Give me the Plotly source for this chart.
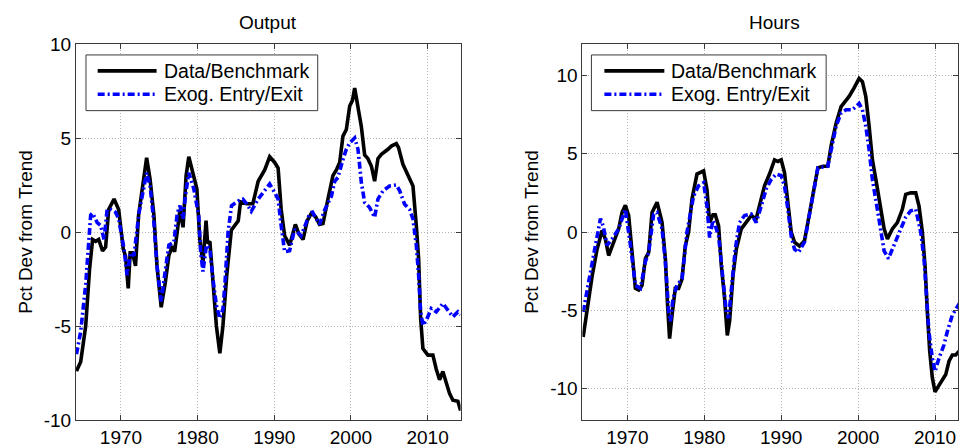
import plotly.graph_objects as go

# ---------------- data ----------------
output_data_years = [1964.2, 1964.75, 1965.4, 1965.9, 1966.3, 1966.7, 1967.1, 1967.6, 1968.0, 1968.4,
                     1969.1, 1969.7, 1970.3, 1970.6, 1970.95, 1971.2, 1971.5, 1971.9, 1972.3, 1972.9,
                     1973.35, 1973.8, 1974.3, 1974.7, 1975.25, 1975.8, 1976.25, 1976.7, 1977.0, 1977.4,
                     1977.7, 1978.1, 1978.5, 1978.85, 1979.5, 1979.9, 1980.3, 1980.7, 1981.1, 1981.3,
                     1981.6, 1982.0, 1982.45, 1982.9, 1983.3, 1983.8, 1984.4, 1985.3, 1985.6, 1986.4,
                     1987.2, 1987.9, 1988.75, 1989.4, 1990.05, 1990.5, 1990.9, 1991.35, 1992.0, 1992.75,
                     1993.2, 1993.75, 1994.3, 1994.85, 1995.4, 1995.9, 1996.35, 1997.0, 1997.65, 1998.1,
                     1998.53, 1998.96, 1999.4, 1999.84, 2000.2, 2000.49, 2000.92, 2001.36, 2001.79, 2002.22,
                     2002.67, 2003.09, 2003.52, 2003.97, 2004.83, 2005.27, 2005.92, 2006.2, 2006.78, 2007.43,
                     2008.09, 2008.53, 2008.83, 2009.09, 2009.39, 2010.04, 2010.69, 2011.13, 2011.56, 2011.99,
                     2012.44, 2012.87, 2013.3, 2013.95, 2014.3]
output_data = [-7.4, -6.9, -5.0, -2.0, -0.4, -0.5, -0.4, -1.0, -0.8, 1.2,
               1.75, 1.2, -0.9, -1.3, -3.0, -1.1, -1.1, -1.8, 0.9, 2.6,
               3.95, 2.8, 0.9, -1.8, -4.0, -2.65, -1.25, -0.75, -1.05, 0.2,
               1.2, 0.25, 3.0, 4.0, 3.0, 2.3, -0.5, -1.6, 0.6, -0.6,
               -0.5, -2.8, -5.0, -6.45, -5.0, -2.3, 0.1, 0.6, 1.6, 1.5,
               1.5, 2.7, 3.3, 4.0, 3.7, 3.4, 1.2, -0.2, -0.7, 0.4,
               -0.1, -0.4, 0.6, 1.0, 0.8, 0.4, 0.45, 1.75, 3.0, 3.3,
               3.7, 5.1, 5.45, 6.7, 7.0, 7.65, 6.7, 5.6, 4.1, 3.9,
               3.5, 2.7, 3.9, 4.13, 4.4, 4.57, 4.7, 4.5, 3.6, 2.98,
               2.45, 0.33, -1.43, -4.6, -6.2, -6.55, -6.55, -7.3, -7.86, -7.42,
               -7.95, -8.6, -8.95, -9.0, -9.5]

output_exog_years = [1964.2, 1964.75, 1965.4, 1966.05, 1966.3, 1966.9, 1967.35, 1967.8, 1968.2, 1968.65,
                     1969.3, 1969.7, 1970.4, 1970.8, 1971.25, 1971.7, 1972.35, 1973.0, 1973.35, 1973.8,
                     1974.3, 1974.7, 1975.25, 1975.8, 1976.25, 1976.9, 1977.35, 1977.7, 1978.1, 1978.4,
                     1978.85, 1979.5, 1980.15, 1980.4, 1980.7, 1981.15, 1981.6, 1982.0, 1982.45, 1982.9,
                     1983.3, 1983.55, 1983.98, 1984.42, 1985.3, 1985.9, 1986.4, 1987.0, 1987.9, 1988.55,
                     1989.4, 1990.05, 1990.5, 1990.9, 1991.35, 1992.0, 1992.65, 1993.5, 1994.6, 1995.0,
                     1995.9, 1996.6, 1997.45, 1997.88, 1998.3, 1998.96, 1999.4, 1999.84, 2000.49, 2000.92,
                     2001.36, 2001.79, 2002.44, 2003.09, 2003.52, 2004.18, 2005.05, 2005.92, 2006.35, 2007.0,
                     2007.65, 2008.09, 2008.53, 2008.83, 2009.09, 2009.39, 2009.83, 2010.48, 2011.13, 2011.99,
                     2012.64, 2013.3, 2013.95, 2014.3]
output_exog = [-6.5, -5.3, -2.8, 0.9, 1.0, 0.5, 0.35, -0.4, 1.2, 1.2,
               1.05, 0.7, -0.9, -2.3, -1.1, -1.25, 1.0, 2.45, 3.15, 2.45,
               0.5, -1.8, -3.7, -2.0, -0.7, -0.55, 1.0, 1.4, 0.7, 1.9,
               3.15, 2.3, 0.85, -1.1, -2.1, -0.7, -0.9, -2.5, -3.9, -4.6,
               -4.1, -2.84, 0.0, 1.4, 1.65, 1.75, 1.5, 1.1, 1.75, 2.1,
               2.55, 2.1, 1.75, 0.35, -1.05, -1.0, 0.15, -0.2, 0.95, 1.05,
               0.4, 1.2, 1.9, 2.7, 2.9, 3.86, 4.4, 4.74, 5.0, 4.4,
               2.63, 1.57, 1.3, 0.78, 1.75, 2.19, 2.45, 2.5, 2.2, 1.48,
               1.2, 0.7, -0.72, -2.3, -4.25, -4.96, -4.7, -4.07, -4.25, -3.8,
               -4.16, -4.51, -4.25, -4.4]

hours_data_years = [1964.25, 1964.77, 1965.42, 1966.06, 1966.71, 1967.14, 1967.57, 1968.22, 1968.87, 1969.31,
                    1969.74, 1970.17, 1970.61, 1971.04, 1971.47, 1971.91, 1972.34, 1972.77, 1973.21, 1973.86,
                    1974.51, 1974.94, 1975.23, 1975.49, 1975.81, 1976.23, 1976.66, 1977.1, 1977.53, 1977.96,
                    1978.4, 1979.05, 1979.91, 1980.35, 1980.69, 1981.13, 1981.43, 1981.86, 1982.21, 1982.64,
                    1982.99, 1983.29, 1983.73, 1984.16, 1984.81, 1985.45, 1986.1, 1986.75, 1987.4, 1987.83,
                    1988.48, 1989.13, 1989.57, 1990.0, 1990.43, 1990.87, 1991.3, 1991.73, 1992.38, 1993.03,
                    1993.68, 1994.32, 1994.77, 1995.42, 1996.06, 1996.49, 1997.14, 1997.79, 1998.18, 1998.83,
                    1999.48, 2000.13, 2000.56, 2001.0, 2001.43, 2001.86, 2002.38, 2002.95, 2003.38, 2003.81,
                    2004.45, 2005.1, 2005.75, 2006.19, 2006.84, 2007.49, 2007.92, 2008.35, 2008.7, 2009.0,
                    2009.31, 2009.65, 2010.0, 2010.43, 2010.95, 2011.39, 2011.82, 2012.25, 2012.69, 2012.99,
                    2013.5, 2014.2]
hours_data = [-6.7, -4.9, -2.8, -1.1, 0.1, -0.45, -1.5, -0.65, 0.2, 1.25,
              1.7, 1.05, -1.1, -3.6, -3.7, -3.4, -1.7, -1.3, 1.25, 1.9,
              0.6, -1.7, -4.7, -6.8, -5.3, -3.6, -3.6, -3.0, -0.9, 0.0,
              2.1, 3.7, 3.9, 2.7, 0.6, 1.1, 1.1, 0.4, -2.1, -4.25,
              -6.6, -5.7, -2.8, -1.1, 0.2, 0.6, 1.05, 0.85, 2.1, 2.95,
              3.7, 4.6, 4.5, 4.6, 3.8, 1.9, 0.0, -0.65, -0.9, -0.55,
              1.25, 2.95, 4.1, 4.2, 4.2, 5.5, 6.95, 8.0, 8.25, 8.65,
              9.2, 9.8, 9.6, 8.65, 6.75, 4.6, 3.15, 1.45, 0.2, -0.45,
              0.2, 0.6, 1.45, 2.4, 2.5, 2.5, 1.65, 0.0, -2.15, -5.1,
              -7.6, -9.3, -10.2, -9.85, -9.45, -9.1, -8.25, -7.85, -7.85, -7.65,
              -7.4, -7.0]

hours_exog_years = [1964.25, 1964.77, 1965.6, 1966.5, 1966.85, 1967.36, 1968.0, 1968.87, 1969.74, 1970.4,
                    1971.04, 1971.7, 1972.34, 1972.77, 1973.42, 1973.86, 1974.51, 1974.94, 1975.37, 1975.6,
                    1975.93, 1976.45, 1977.1, 1977.75, 1978.18, 1978.61, 1979.26, 1979.91, 1980.35, 1980.69,
                    1981.13, 1981.43, 1981.86, 1982.43, 1982.86, 1983.16, 1983.6, 1984.03, 1984.58, 1985.23,
                    1986.1, 1986.75, 1987.4, 1988.05, 1988.7, 1989.35, 1990.0, 1990.43, 1990.87, 1991.3,
                    1991.73, 1992.25, 1993.03, 1993.68, 1994.32, 1994.77, 1996.06, 1996.49, 1997.14, 1997.79,
                    1998.44, 1999.26, 2000.13, 2000.56, 2001.0, 2001.43, 2001.86, 2002.5, 2002.95, 2003.38,
                    2003.94, 2004.45, 2005.3, 2006.19, 2006.84, 2007.49, 2008.14, 2008.57, 2008.87, 2009.2,
                    2009.65, 2010.0, 2010.52, 2011.17, 2011.6, 2012.25, 2012.99, 2013.5, 2014.2]
hours_exog = [-5.1, -3.6, -1.5, 0.85, 0.4, -0.85, -0.45, 0.2, 1.45, -0.85,
              -3.4, -3.6, -1.9, -1.3, 1.15, 1.25, 0.2, -1.9, -5.1, -5.7,
              -4.25, -3.4, -3.0, 0.0, 1.05, 2.3, 2.95, 3.15, 1.65, -0.35,
              0.75, 0.4, -0.25, -3.0, -5.1, -5.5, -3.2, -1.1, 0.6, 1.05,
              1.15, 0.6, 1.65, 2.75, 3.35, 3.7, 3.6, 2.95, 1.45, -0.25,
              -1.1, -1.3, -0.65, 1.25, 2.95, 4.1, 4.2, 5.25, 6.75, 7.6,
              7.8, 7.8, 8.2, 7.8, 6.75, 5.25, 3.35, 1.45, 0.0, -1.2,
              -1.7, -1.1, 0.0, 0.95, 1.35, 1.45, 0.0, -1.7, -3.85, -6.35,
              -8.05, -8.9, -8.05, -7.2, -6.35, -5.3, -4.7, -4.3, -4.0]

x_tickvals = [1970, 1980, 1990, 2000, 2010]
x_ticktext = ["1970", "1980", "1990", "2000", "2010"]
y_tickvals = [-10, -5, 0, 5, 10]
y_ticktext = ["-10", "-5", "0", "5", "10"]
panel_titles = ["Output", "Hours"]
series_names = ["Data/Benchmark", "Exog. Entry/Exit"]
y_title = "Pct Dev from Trend"

# ---------------- styling ----------------
FONT = "Liberation Sans, Arial, Helvetica, sans-serif"
FS = 19
BLACK = "#000000"
BLUE = "#0000ff"
LW = 3.6
DASH = "7px,3px,2px,3px"
AXC = "#3a3a3a"
GRIDC = "#b4b4b4"

fig = go.Figure()
fig.add_trace(go.Scatter(x=output_data_years, y=output_data, mode="lines", name=series_names[0],
                         line=dict(color=BLACK, width=LW), xaxis="x", yaxis="y", showlegend=False))
fig.add_trace(go.Scatter(x=output_exog_years, y=output_exog, mode="lines", name=series_names[1],
                         line=dict(color=BLUE, width=LW, dash=DASH), xaxis="x", yaxis="y", showlegend=False))
fig.add_trace(go.Scatter(x=hours_data_years, y=hours_data, mode="lines", name=series_names[0],
                         line=dict(color=BLACK, width=LW), xaxis="x2", yaxis="y2", showlegend=False))
fig.add_trace(go.Scatter(x=hours_exog_years, y=hours_exog, mode="lines", name=series_names[1],
                         line=dict(color=BLUE, width=LW, dash=DASH), xaxis="x2", yaxis="y2", showlegend=False))

W, H = 959, 448
ML, MR, MT, MB = 76, 0, 44, 26
PW = W - ML - MR

def xdom(px0, px1):
    return [(px0 - ML) / PW, (px1 - ML) / PW]

common_axis = dict(showline=True, linecolor=AXC, linewidth=1, mirror="ticks", ticks="inside",
                   ticklen=5, tickcolor=AXC, showgrid=True, gridcolor=GRIDC, gridwidth=1,
                   griddash="1px,2px", zeroline=False, tickfont=dict(family=FONT, size=FS, color="#000"))

ppy_left = (428 - 121) / 40.0
ppy_right = (936 - 628) / 40.0
x_left_range = [1970 - (121 - 76) / ppy_left, 1970 + (461 - 121) / ppy_left]
x_right_range = [1970 - (628 - 583) / ppy_right, 1970 + (959 - 628) / ppy_right]

fig.update_layout(
    width=W, height=H, margin=dict(l=ML, r=MR, t=MT, b=MB, pad=0),
    paper_bgcolor="white", plot_bgcolor="white",
    font=dict(family=FONT, size=FS, color="#000"),
    xaxis=dict(domain=xdom(76, 461), range=x_left_range, tickvals=x_tickvals, ticktext=x_ticktext,
               anchor="y", **common_axis),
    yaxis=dict(domain=[0, 1], range=[-10, 10], tickvals=y_tickvals, ticktext=y_ticktext, anchor="x",
               title=dict(text=y_title, standoff=6, font=dict(family=FONT, size=FS)), **common_axis),
    xaxis2=dict(domain=xdom(583, 959), range=x_right_range, tickvals=x_tickvals, ticktext=x_ticktext,
                anchor="y2", **common_axis),
    yaxis2=dict(domain=[0, 1], range=[-12, 12], tickvals=y_tickvals, ticktext=y_ticktext, anchor="x2",
                title=dict(text=y_title, standoff=6, font=dict(family=FONT, size=FS)), **common_axis),
)

# panel titles
title_centers = [(76 + 461) / 2, (583 + 968) / 2]
for t, cx in zip(panel_titles, title_centers):
    fig.add_annotation(text=t, xref="paper", yref="paper", x=(cx - ML) / PW, y=1,
                       xanchor="center", yanchor="bottom", yshift=9, showarrow=False,
                       font=dict(family=FONT, size=FS, color="#000"))

# legends (one per panel)
def add_legend(xref, yref, axw, box, line_x, text_x):
    x0, x1 = box
    top, bot = 55, 111
    ytop = (422 - top) / 378
    ybot = (422 - bot) / 378
    fig.add_shape(type="rect", xref=xref + " domain", yref=yref + " domain",
                  x0=x0 / axw, x1=x1 / axw, y0=ybot, y1=ytop, fillcolor="white",
                  line=dict(color=AXC, width=1), layer="above")
    rows = [(71, BLACK, None, series_names[0]), (94.5, BLUE, DASH, series_names[1])]
    for ry, col, dash, name in rows:
        yy = (422 - ry) / 378
        fig.add_shape(type="line", xref=xref + " domain", yref=yref + " domain",
                      x0=line_x[0] / axw, x1=line_x[1] / axw, y0=yy, y1=yy,
                      line=dict(color=col, width=LW, dash=dash), layer="above")
        fig.add_annotation(text=name, xref=xref + " domain", yref=yref + " domain",
                           x=text_x / axw, y=yy, xanchor="left", yanchor="middle", showarrow=False,
                           font=dict(family=FONT, size=19.5, color="#000"))

add_legend("x", "y", 385, (10, 242), (21.7, 80.7), 86)
add_legend("x2", "y2", 376, (9, 244), (22, 82), 87)

fig.write_html("out.html")
